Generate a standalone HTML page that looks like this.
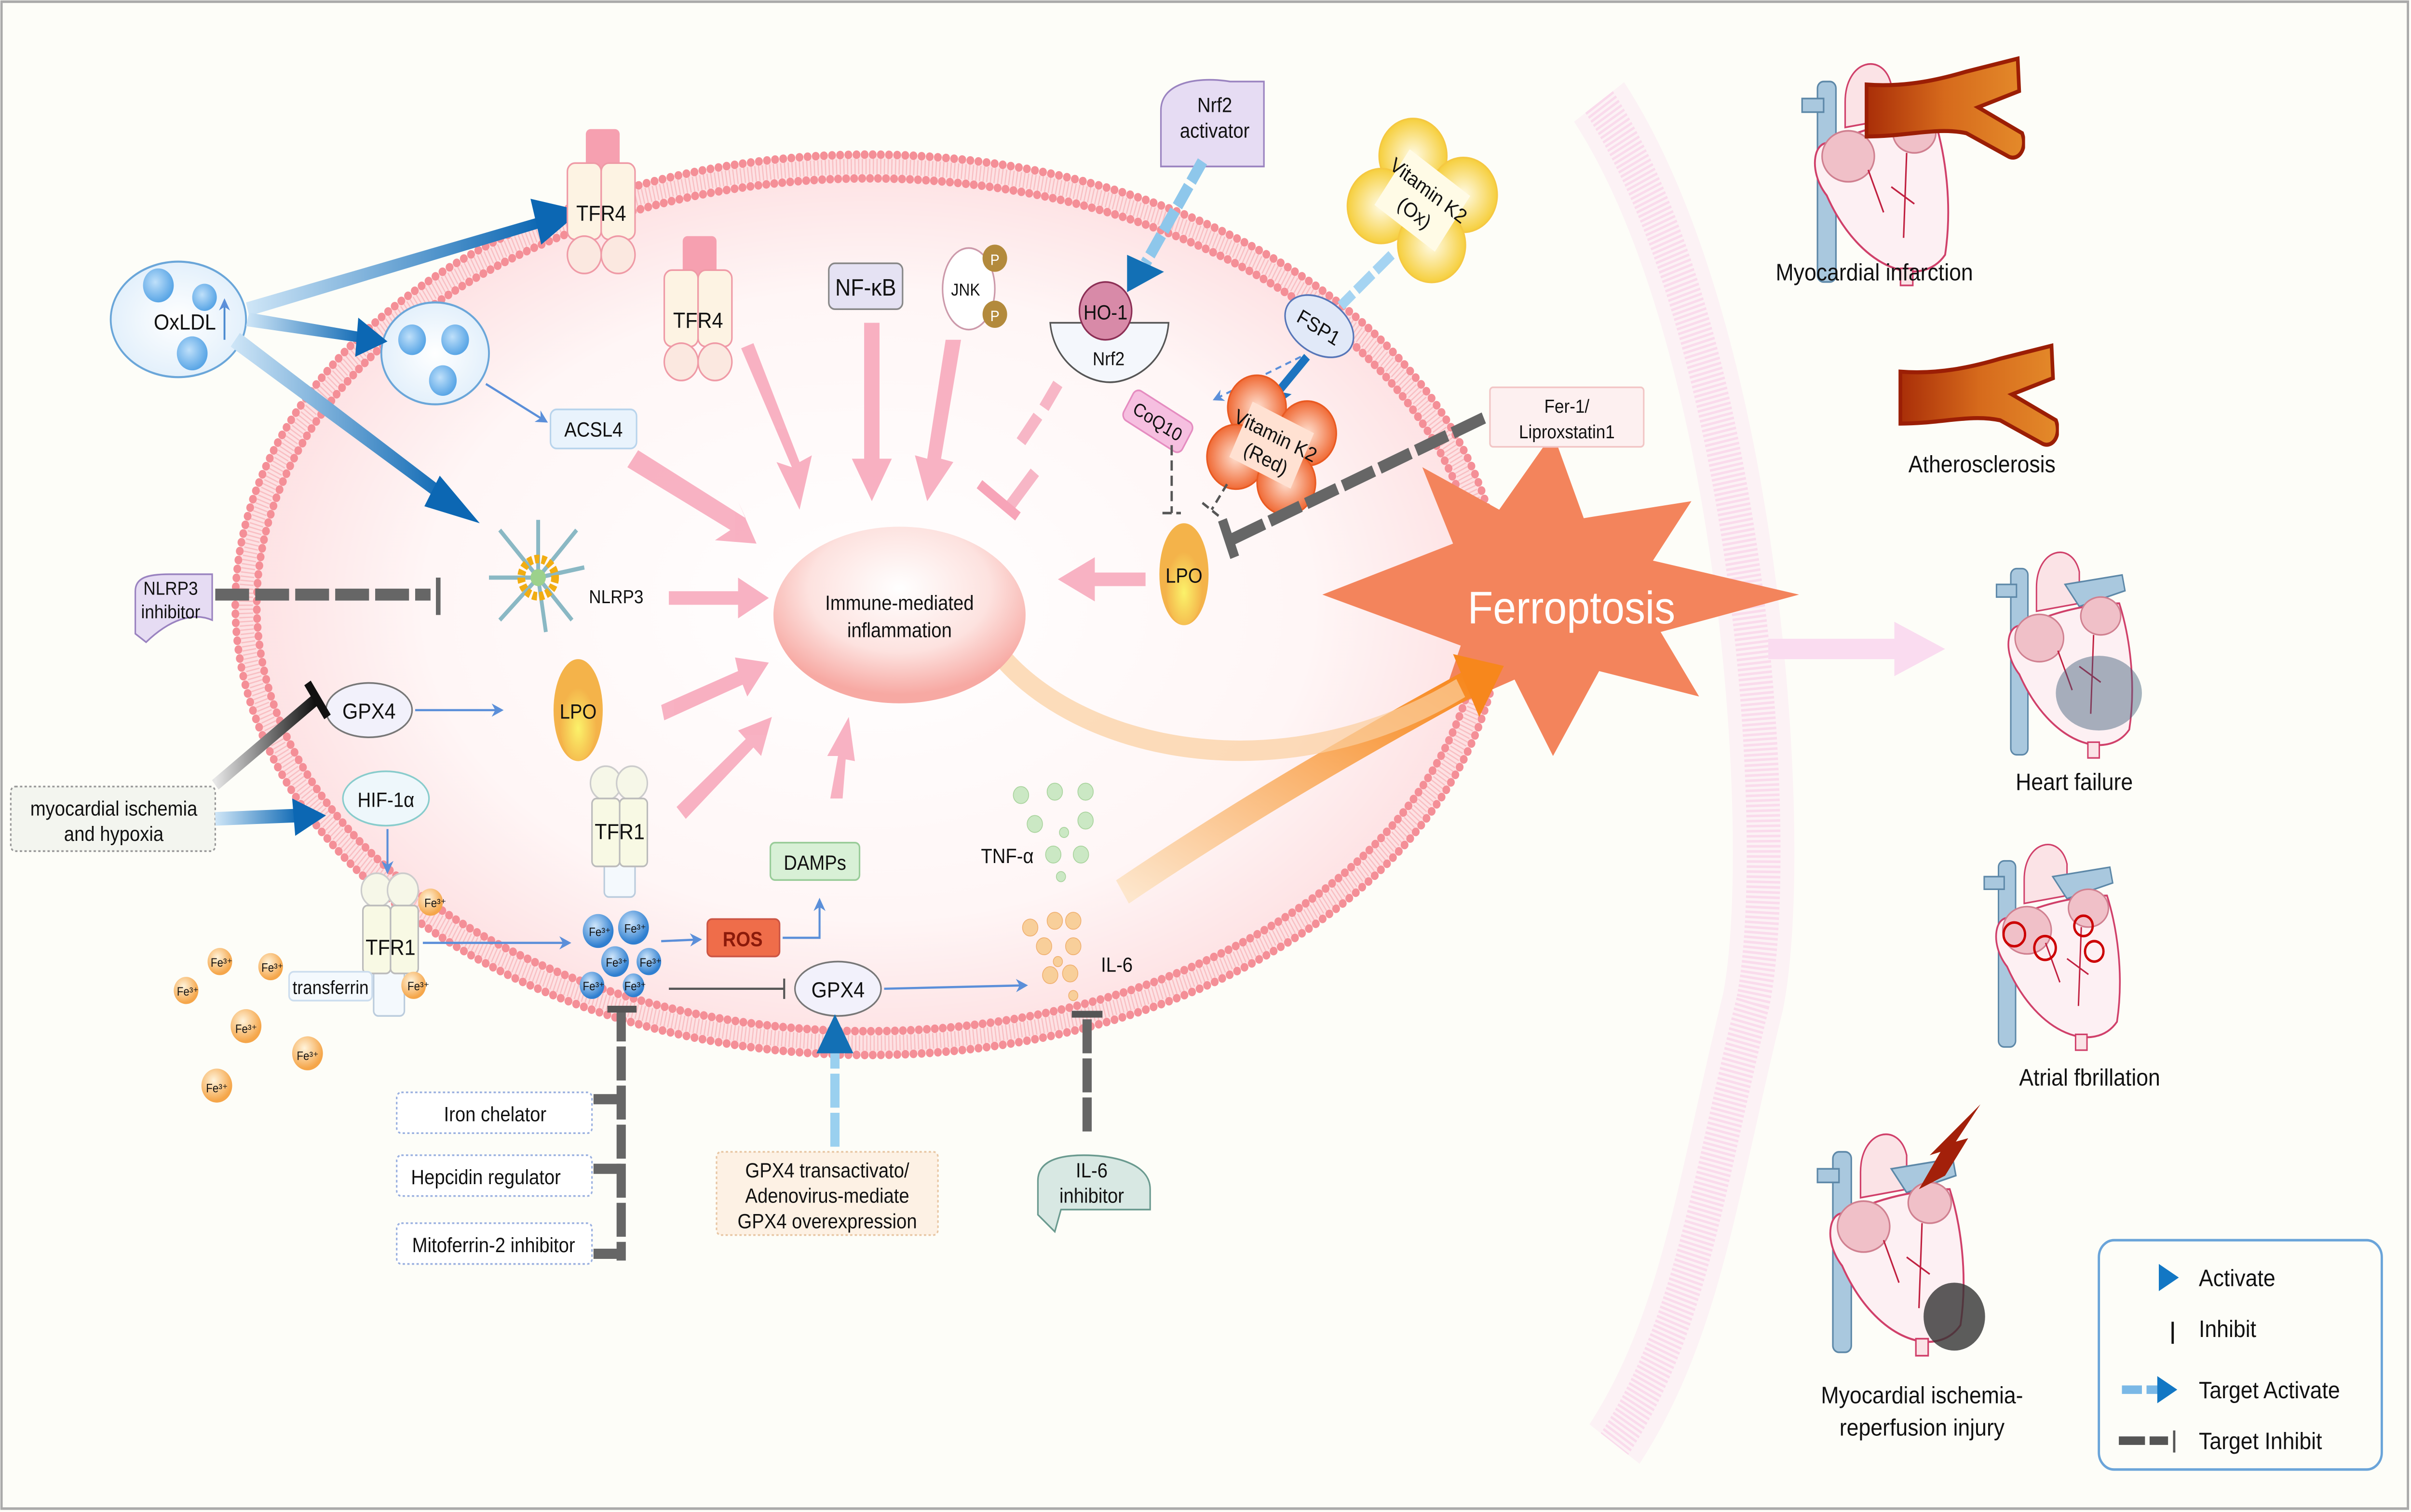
<!DOCTYPE html>
<html><head><meta charset="utf-8"><style>
html,body{margin:0;padding:0;background:#fdfdf8;width:100%;height:100%;overflow:hidden}
svg{display:block;position:absolute;left:0;top:0;width:100vw;height:100vh}
text{font-family:"Liberation Sans Narrow","Liberation Sans",sans-serif;fill:#111}
.w{font-family:"Liberation Sans",sans-serif}
</style></head><body>
<svg viewBox="0 0 1568 890" preserveAspectRatio="none" xmlns="http://www.w3.org/2000/svg">
<defs>
<radialGradient id="cell" cx="0.5" cy="0.5" r="0.5">
<stop offset="0" stop-color="#ffffff"/><stop offset="0.7" stop-color="#fff6f6"/><stop offset="1" stop-color="#fde0e2"/></radialGradient>
<radialGradient id="infl" cx="0.5" cy="0.35" r="0.6"><stop offset="0" stop-color="#fff"/><stop offset="0.6" stop-color="#fde2df"/><stop offset="1" stop-color="#f7a9a3"/></radialGradient>
<radialGradient id="fe" cx="0.4" cy="0.35" r="0.6"><stop offset="0" stop-color="#fff4dc"/><stop offset="1" stop-color="#f5a64a"/></radialGradient>
<radialGradient id="feb" cx="0.4" cy="0.35" r="0.6"><stop offset="0" stop-color="#cfe6fb"/><stop offset="1" stop-color="#2f7fd0"/></radialGradient>
<radialGradient id="lpo" cx="0.5" cy="0.6" r="0.5"><stop offset="0" stop-color="#fbf26a"/><stop offset="1" stop-color="#f4b34a"/></radialGradient>
<radialGradient id="ves" cx="0.5" cy="0.5" r="0.5"><stop offset="0" stop-color="#fff"/><stop offset="1" stop-color="#e3f0fb"/></radialGradient>
<radialGradient id="ball" cx="0.4" cy="0.4" r="0.6"><stop offset="0" stop-color="#bfe0fa"/><stop offset="1" stop-color="#5aa6e6"/></radialGradient>
<radialGradient id="vk" cx="0.5" cy="0.5" r="0.5"><stop offset="0" stop-color="#fffbe6"/><stop offset="1" stop-color="#f6cf3d"/></radialGradient>
<radialGradient id="vkr" cx="0.5" cy="0.5" r="0.5"><stop offset="0" stop-color="#ffe1d2"/><stop offset="1" stop-color="#f06a35"/></radialGradient>
<linearGradient id="blue" x1="0" y1="0" x2="1" y2="0"><stop offset="0" stop-color="#cfe6f7"/><stop offset="1" stop-color="#0c67b3"/></linearGradient>
<linearGradient id="orange" x1="0" y1="1" x2="1" y2="0"><stop offset="0" stop-color="#fde6cc"/><stop offset="1" stop-color="#f7871c"/></linearGradient>
<linearGradient id="blk" x1="0" y1="0" x2="1" y2="0"><stop offset="0" stop-color="#e6e6e6"/><stop offset="1" stop-color="#111"/></linearGradient>
<linearGradient id="vessel" x1="0" y1="0" x2="1" y2="0"><stop offset="0" stop-color="#a92e08"/><stop offset="0.5" stop-color="#d66a1c"/><stop offset="1" stop-color="#e48a2a"/></linearGradient>
<marker id="ab" viewBox="0 0 10 10" refX="8" refY="5" markerWidth="6" markerHeight="6" orient="auto"><path d="M0,0 L10,5 L0,10 L3,5z" fill="#5b8fd9"/></marker>
<symbol id="heart" viewBox="0 0 100 140">
<rect x="12" y="18" width="12" height="118" rx="4" fill="#a9c8de" stroke="#5d88a8"/>
<rect x="2" y="28" width="14" height="8" fill="#a9c8de" stroke="#5d88a8"/>
<path d="M30,30 C30,5 55,0 60,20 L60,40 L30,45z" fill="#fbe3e6" stroke="#d0406a"/>
<path d="M50,28 L90,22 L92,32 L60,42z" fill="#a9c8de" stroke="#5d88a8"/>
<path d="M22,55 C10,50 5,70 18,85 C40,130 80,140 95,120 C100,90 95,60 88,40 C70,40 40,45 22,55z" fill="#fdf0f3" stroke="#d0406a" stroke-width="1.2"/>
<ellipse cx="32" cy="62" rx="17" ry="15" fill="#f0c0c8" stroke="#d08090"/>
<ellipse cx="75" cy="48" rx="14" ry="12" fill="#f0c0c8" stroke="#d08090"/>
<path d="M45,70 L55,95 M70,60 L68,110 M60,80 L75,90" stroke="#c02040" stroke-width="1" fill="none"/>
<rect x="66" y="128" width="8" height="10" fill="#fbe3e6" stroke="#d0406a"/>
</symbol>
<symbol id="artery" viewBox="0 0 110 70">
<path d="M2,18 C30,20 55,14 70,10 L105,2 L106,22 L78,32 L108,48 C112,58 105,66 98,62 L70,48 C50,44 30,50 2,50z" fill="url(#vessel)" stroke="#9b1e05" stroke-width="2.5"/>
</symbol>
</defs>

<rect x="0" y="0" width="1568" height="890" fill="#fdfdf8"/>
<rect x="1" y="1" width="1565" height="887" fill="none" stroke="#aaa" stroke-width="1.5"/>

<path d="M1040,60 C1140,200 1160,500 1140,590 C1110,700 1100,780 1050,850" stroke="#f9d3e8" stroke-width="22" fill="none" stroke-dasharray="1.5 1.5" opacity="0.9"/>
<path d="M1040,60 C1140,200 1160,500 1140,590 C1110,700 1100,780 1050,850" stroke="#fbe2f0" stroke-width="40" fill="none" opacity="0.4"/>
<path d="M1150,382 L1240,382" stroke="#fadcf0" stroke-width="12"/>
<path d="M1232,366 L1265,382 L1232,398z" fill="#fadcf0"/>

<ellipse cx="565" cy="356" rx="412" ry="264" fill="url(#cell)"/>
<ellipse cx="565" cy="356" rx="405" ry="258" fill="none" stroke="#f6a9ae" stroke-width="9" stroke-dasharray="0.8 1.6" opacity="0.6"/>
<ellipse cx="565" cy="356" rx="412" ry="265" fill="none" stroke="#f48f97" stroke-width="5" stroke-linecap="round" stroke-dasharray="0.1 5.2"/>
<ellipse cx="565" cy="356" rx="398" ry="251" fill="none" stroke="#f48f97" stroke-width="5" stroke-linecap="round" stroke-dasharray="0.1 5.1"/>

<path d="M860,350 L945,320 L925,275 L975,300 L1010,255 L1030,305 L1100,295 L1075,330 L1170,350 L1080,372 L1105,410 L1040,395 L1010,445 L985,400 L935,420 L950,380z" fill="#f3845c"/>
<text x="1022" y="367" class="w" font-size="27" text-anchor="middle" style="fill:#fff">Ferroptosis</text>

<path d="M730,525 C820,470 900,430 960,400" stroke="url(#orange)" stroke-width="16" fill="none"/>
<path d="M945,385 L978,392 L962,422z" fill="#f7871c"/>
<path d="M650,385 C700,440 830,470 950,405" stroke="#fbcf9e" stroke-width="12" fill="none" opacity="0.7"/>

<ellipse cx="585" cy="362" rx="82" ry="52" fill="url(#infl)"/>
<text x="585" y="359" font-size="12" text-anchor="middle" class="w">Immune-mediated</text>
<text x="585" y="375" font-size="12" text-anchor="middle" class="w">inflammation</text>

<g fill="#f7a4b8" opacity="0.85">
<path d="M415,265 L485,305 L480,295 L492,320 L465,318 L475,312 L408,275z"/>
<path d="M482,205 L515,275 L505,272 L520,300 L528,268 L520,272 L490,202z" />
<path d="M562,190 L572,190 L572,270 L580,270 L567,295 L554,270 L562,270z"/>
<path d="M615,200 L625,200 L612,270 L620,272 L603,295 L595,268 L603,270z"/>
<path d="M435,348 L480,348 L480,340 L500,352 L480,364 L480,356 L435,356z"/>
<path d="M430,415 L480,395 L478,387 L500,390 L486,410 L483,403 L432,424z"/>
<path d="M440,475 L485,435 L480,430 L502,422 L495,445 L490,440 L446,482z"/>
<path d="M540,470 L545,445 L538,445 L552,422 L556,448 L550,447 L548,470z"/>
<path d="M745,337 L712,337 L712,328 L688,341 L712,354 L712,345 L745,345z"/>
</g>
<g stroke="#f7b6c6" stroke-width="7" fill="none"><path d="M673,278 L655,300 M664,260 L675,245 M679,240 L688,226" /></g>
<path d="M637,285 L662,304" stroke="#f7a4b8" stroke-width="6"/>

<ellipse cx="116" cy="188" rx="44" ry="34" fill="url(#ves)" stroke="#6aa6d9" stroke-width="1.2"/>
<circle cx="103" cy="168" r="10" fill="url(#ball)"/><circle cx="125" cy="208" r="10" fill="url(#ball)"/><circle cx="133" cy="175" r="8" fill="url(#ball)"/>
<text x="100" y="194" font-size="13" class="w">OxLDL</text>
<path d="M146,200 L146,177" stroke="#4a8ad0" stroke-width="1.2" marker-end="url(#ab)"/>
<ellipse cx="283" cy="208" rx="35" ry="30" fill="url(#ves)" stroke="#6aa6d9" stroke-width="1.2"/>
<circle cx="268" cy="200" r="9" fill="url(#ball)"/><circle cx="296" cy="200" r="9" fill="url(#ball)"/><circle cx="288" cy="224" r="9" fill="url(#ball)"/>
<g>
<path d="M160,178 L350,128 L352,134 L162,186z" fill="url(#blue)"/><path d="M345,117 L378,124 L352,144z" fill="#0c67b3"/>
<path d="M162,184 L238,196 L237,202 L160,192z" fill="url(#blue)"/><path d="M233,187 L252,201 L231,210z" fill="#0c67b3"/>
<path d="M156,196 L292,290 L288,296 L150,204z" fill="url(#blue)"/><path d="M286,280 L312,308 L276,298z" fill="#0c67b3"/>
</g>
<path d="M316,226 L355,248" stroke="#5b8fd9" stroke-width="1.3" marker-end="url(#ab)"/>
<rect x="358" y="241" width="56" height="23" rx="4" fill="#e9f3fc" stroke="#b8d4ec"/>
<text x="386" y="257" font-size="12" text-anchor="middle" class="w">ACSL4</text>

<g>
<rect x="381" y="76" width="22" height="25" rx="3" fill="#f6a0b0"/>
<rect x="369" y="96" width="22" height="45" rx="5" fill="#fdf3e3" stroke="#ef9aa6"/>
<rect x="391" y="96" width="22" height="45" rx="5" fill="#fdf3e3" stroke="#ef9aa6"/>
<circle cx="380" cy="150" r="11" fill="#fbe8e0" stroke="#ef9aa6"/><circle cx="402" cy="150" r="11" fill="#fbe8e0" stroke="#ef9aa6"/>
<text x="391" y="130" font-size="13" text-anchor="middle">TFR4</text>
</g>
<g transform="translate(63,63)">
<rect x="381" y="76" width="22" height="25" rx="3" fill="#f6a0b0"/>
<rect x="369" y="96" width="22" height="45" rx="5" fill="#fdf3e3" stroke="#ef9aa6"/>
<rect x="391" y="96" width="22" height="45" rx="5" fill="#fdf3e3" stroke="#ef9aa6"/>
<circle cx="380" cy="150" r="11" fill="#fbe8e0" stroke="#ef9aa6"/><circle cx="402" cy="150" r="11" fill="#fbe8e0" stroke="#ef9aa6"/>
<text x="391" y="130" font-size="13" text-anchor="middle">TFR4</text>
</g>

<rect x="539" y="155" width="48" height="27" rx="4" fill="#e5e2f3" stroke="#888"/>
<text x="563" y="174" font-size="14" text-anchor="middle" class="w">NF-κB</text>
<ellipse cx="630" cy="170" rx="17" ry="24" fill="#fff" stroke="#c9a"/>
<text x="628" y="174" font-size="10" text-anchor="middle">JNK</text>
<circle cx="647" cy="152" r="8" fill="#b38a3c"/><text x="647" y="156" font-size="9" text-anchor="middle" style="fill:#fff">P</text>
<circle cx="647" cy="185" r="8" fill="#b38a3c"/><text x="647" y="189" font-size="9" text-anchor="middle" style="fill:#fff">P</text>

<path d="M755,98 L755,65 C755,48 780,45 800,48 L822,48 L822,98z" fill="#e6dcf3" stroke="#9a83c0"/>
<text x="790" y="66" font-size="12" text-anchor="middle" class="w">Nrf2</text>
<text x="790" y="81" font-size="12" text-anchor="middle" class="w">activator</text>
<path d="M782,95 L745,155" stroke="#8ec7eb" stroke-width="7" stroke-dasharray="14 3"/>
<path d="M733,150 L757,160 L733,172z" fill="#1370b5"/>
<path d="M683,190 L760,190 C758,215 735,225 722,225 C705,225 685,212 683,190z" fill="#f4f7fc" stroke="#555"/>
<circle cx="719" cy="183" r="17" fill="#d88aa8" stroke="#8c2f55"/>
<text x="719" y="188" font-size="12" text-anchor="middle">HO-1</text>
<text x="721" y="215" font-size="11" text-anchor="middle">Nrf2</text>

<g transform="translate(925,118) rotate(35)">
<circle cx="-20" cy="-18" r="22" fill="url(#vk)" stroke="#f5c842"/><circle cx="20" cy="-18" r="22" fill="url(#vk)" stroke="#f5c842"/>
<circle cx="-20" cy="18" r="22" fill="url(#vk)" stroke="#f5c842"/><circle cx="20" cy="18" r="22" fill="url(#vk)" stroke="#f5c842"/>
<rect x="-24" y="-20" width="48" height="40" fill="#fffbe6"/>
<text x="0" y="-3" font-size="12" text-anchor="middle" class="w">Vitamin K2</text>
<text x="0" y="13" font-size="12" text-anchor="middle" class="w">(Ox)</text>
</g>
<path d="M905,150 L872,180" stroke="#a5d4f2" stroke-width="6" stroke-dasharray="14 3"/>
<g transform="translate(858,192) rotate(30)"><ellipse rx="24" ry="16" fill="#e1e9f8" stroke="#5776b8"/><text y="5" font-size="12" text-anchor="middle" class="w">FSP1</text></g>
<path d="M846,210 L790,235" stroke="#5b8fd9" stroke-width="1.2" stroke-dasharray="4 3" marker-end="url(#ab)"/>
<path d="M850,210 L830,232" stroke="#1c74c0" stroke-width="5"/><path d="M818,228 L840,232 L820,245z" fill="#1c74c0"/>
<g transform="translate(827,262) rotate(25)">
<circle cx="-18" cy="-16" r="19" fill="url(#vkr)" stroke="#e95a22"/><circle cx="18" cy="-16" r="19" fill="url(#vkr)" stroke="#e95a22"/>
<circle cx="-18" cy="16" r="19" fill="url(#vkr)" stroke="#e95a22"/><circle cx="18" cy="16" r="19" fill="url(#vkr)" stroke="#e95a22"/>
<rect x="-22" y="-18" width="44" height="36" fill="#ffe1d2"/>
<text y="-2" font-size="12" text-anchor="middle" class="w">Vitamin K2</text>
<text y="13" font-size="12" text-anchor="middle" class="w">(Red)</text>
</g>
<g transform="translate(753,248) rotate(30)"><rect x="-22" y="-10" width="44" height="20" rx="4" fill="#f6bfe0" stroke="#e58cc0"/><text y="4" font-size="11" text-anchor="middle" class="w">CoQ10</text></g>
<path d="M762,262 L762,302 M756,302 L768,302" stroke="#555" stroke-width="1.5" stroke-dasharray="6 3"/>
<path d="M798,285 L788,300 M782,296 L793,304" stroke="#555" stroke-width="1.5" stroke-dasharray="5 3"/>
<g transform="translate(770,338)">
<ellipse rx="16" ry="30" fill="#f4b34a"/><ellipse cy="6" rx="12" ry="24" fill="url(#lpo)"/>
<text y="5" font-size="12" text-anchor="middle">LPO</text></g>
<rect x="969" y="228" width="100" height="35" rx="2" fill="#fdf0f0" stroke="#f2c6c6"/>
<text x="1019" y="243" font-size="11" text-anchor="middle" class="w">Fer-1/</text>
<text x="1019" y="258" font-size="11" text-anchor="middle" class="w">Liproxstatin1</text>
<path d="M965,246 L800,318" stroke="#666" stroke-width="7" stroke-dasharray="22 4"/>
<path d="M795,306 L803,328" stroke="#666" stroke-width="6"/>

<path d="M88,373 L88,348 C88,340 96,338 110,338 L138,338 L138,365 C125,360 110,365 95,378z" fill="#e6dcf3" stroke="#9a83c0"/>
<text x="111" y="350" font-size="11" text-anchor="middle" class="w">NLRP3</text>
<text x="111" y="364" font-size="11" text-anchor="middle" class="w">inhibitor</text>
<path d="M140,350 L280,350" stroke="#666" stroke-width="7" stroke-dasharray="22 4"/>
<path d="M285,340 L285,362" stroke="#666" stroke-width="3"/>
<g transform="translate(350,340)">
<g stroke="#8ab8c4" stroke-width="2.5">
<path d="M0,0 L-25,-28 M0,0 L25,-28 M0,0 L-32,0 M0,0 L30,-6 M0,0 L-25,25 M0,0 L22,25 M0,0 L0,-34 M0,0 L5,32"/></g>
<circle r="11" fill="none" stroke="#f1ad12" stroke-width="5" stroke-dasharray="3 1.5"/>
<circle r="5" fill="#9cd18c"/>
</g>
<text x="383" y="355" font-size="11" class="w">NLRP3</text>

<ellipse cx="240" cy="418" rx="28" ry="16" fill="#f2f1fb" stroke="#777"/>
<text x="240" y="423" font-size="13" text-anchor="middle" class="w">GPX4</text>
<path d="M270,418 L326,418" stroke="#5b8fd9" stroke-width="1.3" marker-end="url(#ab)"/>
<g transform="translate(376,418)">
<ellipse rx="16" ry="30" fill="#f4b34a"/><ellipse cy="6" rx="12" ry="24" fill="url(#lpo)"/>
<text y="5" font-size="12" text-anchor="middle">LPO</text></g>
<path d="M140,462 L205,412" stroke="url(#blk)" stroke-width="7"/>
<path d="M200,402 L213,422" stroke="#111" stroke-width="5"/>
<rect x="7" y="463" width="133" height="38" rx="3" fill="#f3f5ef" stroke="#999" stroke-dasharray="1.5 1.5"/>
<text x="74" y="480" font-size="12" text-anchor="middle" class="w">myocardial ischemia</text>
<text x="74" y="495" font-size="12" text-anchor="middle" class="w">and hypoxia</text>
<path d="M140,482 L195,480" stroke="url(#blue)" stroke-width="8"/><path d="M190,470 L212,480 L192,492z" fill="#0c67b3"/>
<ellipse cx="251" cy="470" rx="28" ry="16" fill="#eef7fb" stroke="#8cc"/>
<text x="251" y="475" font-size="12" text-anchor="middle" class="w">HIF-1α</text>
<path d="M252,488 L252,513" stroke="#5b8fd9" stroke-width="1.3" marker-end="url(#ab)"/>

<rect x="243" y="560" width="20" height="38" rx="3" fill="#f4f9fd" stroke="#bcd"/>
<circle cx="245" cy="524" r="10" fill="#f6f7e8" stroke="#ccc"/><circle cx="262" cy="524" r="10" fill="#f6f7e8" stroke="#ccc"/>
<rect x="236" y="533" width="18" height="40" rx="3" fill="#f8f9e4" stroke="#bbb"/><rect x="254" y="533" width="18" height="40" rx="3" fill="#f8f9e4" stroke="#bbb"/>
<text x="254" y="562" font-size="13" text-anchor="middle">TFR1</text>
<rect x="188" y="572" width="54" height="17" rx="3" fill="#f4f9fd" stroke="#cde"/>
<text x="215" y="585" font-size="11" text-anchor="middle">transferrin</text>
<g font-size="7">
<circle cx="280" cy="531" r="8" fill="url(#fe)"/><text x="276" y="534">Fe³⁺</text>
<circle cx="269" cy="580" r="8" fill="url(#fe)"/><text x="265" y="583">Fe³⁺</text>
<circle cx="143" cy="566" r="8" fill="url(#fe)"/><text x="137" y="569">Fe³⁺</text>
<circle cx="176" cy="569" r="8" fill="url(#fe)"/><text x="170" y="572">Fe³⁺</text>
<circle cx="121" cy="583" r="8" fill="url(#fe)"/><text x="115" y="586">Fe³⁺</text>
<circle cx="160" cy="604" r="10" fill="url(#fe)"/><text x="153" y="608">Fe³⁺</text>
<circle cx="200" cy="620" r="10" fill="url(#fe)"/><text x="193" y="624">Fe³⁺</text>
<circle cx="141" cy="639" r="10" fill="url(#fe)"/><text x="134" y="643">Fe³⁺</text>
</g>
<path d="M275,555 L370,555" stroke="#5b8fd9" stroke-width="1.3" marker-end="url(#ab)"/>
<g font-size="7">
<circle cx="389" cy="548" r="10" fill="url(#feb)"/><text x="383" y="551">Fe³⁺</text>
<circle cx="412" cy="546" r="10" fill="url(#feb)"/><text x="406" y="549">Fe³⁺</text>
<circle cx="400" cy="566" r="9" fill="url(#feb)"/><text x="394" y="569">Fe³⁺</text>
<circle cx="422" cy="566" r="8" fill="url(#feb)"/><text x="416" y="569">Fe³⁺</text>
<circle cx="385" cy="580" r="8" fill="url(#feb)"/><text x="379" y="583">Fe³⁺</text>
<circle cx="412" cy="580" r="7" fill="url(#feb)"/><text x="406" y="583">Fe³⁺</text>
</g>
<rect x="393" y="490" width="20" height="38" rx="3" fill="#f4f9fd" stroke="#bcd"/>
<circle cx="394" cy="461" r="10" fill="#f6f7e8" stroke="#ccc"/><circle cx="411" cy="461" r="10" fill="#f6f7e8" stroke="#ccc"/>
<rect x="385" y="470" width="18" height="40" rx="3" fill="#f8f9e4" stroke="#bbb"/><rect x="403" y="470" width="18" height="40" rx="3" fill="#f8f9e4" stroke="#bbb"/>
<text x="403" y="494" font-size="13" text-anchor="middle">TFR1</text>
<path d="M430,554 L455,553" stroke="#5b8fd9" stroke-width="1.3" marker-end="url(#ab)"/>
<rect x="460" y="541" width="47" height="22" rx="3" fill="#ef6d4a" stroke="#c54"/>
<text x="483" y="557" font-size="12" text-anchor="middle" style="fill:#8b1a0a;font-weight:bold">ROS</text>
<path d="M509,552 L533,552 L533,530" stroke="#5b8fd9" stroke-width="1.3" fill="none" marker-end="url(#ab)"/>
<rect x="501" y="496" width="58" height="22" rx="3" fill="#d8f0d6" stroke="#9c9"/>
<text x="530" y="512" font-size="12" text-anchor="middle" class="w">DAMPs</text>
<path d="M435,582 L510,582 M510,576 L510,588" stroke="#555" stroke-width="1.3"/>
<ellipse cx="545" cy="582" rx="28" ry="16" fill="#f2f1fb" stroke="#777"/>
<text x="545" y="587" font-size="13" text-anchor="middle" class="w">GPX4</text>
<path d="M575,582 L667,580" stroke="#5b8fd9" stroke-width="1.3" marker-end="url(#ab)"/>
<path d="M543,675 L543,620" stroke="#9ad0ef" stroke-width="6" stroke-dasharray="20 3"/>
<path d="M531,620 L543,597 L555,620z" fill="#1370b5"/>
<rect x="466" y="678" width="144" height="49" rx="3" fill="#fdf1e4" stroke="#e8c6a3" stroke-dasharray="1.5 1.5"/>
<text x="538" y="693" font-size="12" text-anchor="middle">GPX4 transactivato/</text>
<text x="538" y="708" font-size="12" text-anchor="middle">Adenovirus-mediate</text>
<text x="538" y="723" font-size="12" text-anchor="middle">GPX4 overexpression</text>
<path d="M404,593 L404,742" stroke="#666" stroke-width="6" stroke-dasharray="20 3"/>
<path d="M395,594 L414,594" stroke="#555" stroke-width="4"/>
<path d="M386,647 L404,647 M386,688 L404,688 M386,738 L404,738" stroke="#666" stroke-width="6"/>
<g font-size="12" text-anchor="middle">
<rect x="258" y="643" width="127" height="24" rx="3" fill="#fff" stroke="#9ab0e0" stroke-dasharray="1.5 1.5"/><text x="322" y="660">Iron chelator</text>
<rect x="258" y="680" width="127" height="24" rx="3" fill="#fff" stroke="#9ab0e0" stroke-dasharray="1.5 1.5"/><text x="316" y="697">Hepcidin regulator</text>
<rect x="258" y="720" width="127" height="24" rx="3" fill="#fff" stroke="#9ab0e0" stroke-dasharray="1.5 1.5"/><text x="321" y="737">Mitoferrin-2 inhibitor</text>
</g>
<g fill="#cbe8c4" stroke="#a8d39c" stroke-width="0.5">
<circle cx="664" cy="468" r="5"/><circle cx="686" cy="466" r="5"/><circle cx="706" cy="466" r="5"/>
<circle cx="673" cy="485" r="5"/><circle cx="706" cy="483" r="5"/><circle cx="692" cy="490" r="3"/>
<circle cx="685" cy="503" r="5"/><circle cx="703" cy="503" r="5"/><circle cx="690" cy="516" r="3"/></g>
<text x="638" y="508" font-size="12" class="w">TNF-α</text>
<g fill="#f8cf9a" stroke="#f0b070" stroke-width="0.5">
<circle cx="670" cy="546" r="5"/><circle cx="686" cy="542" r="5"/><circle cx="698" cy="542" r="5"/>
<circle cx="679" cy="557" r="5"/><circle cx="698" cy="557" r="5"/><circle cx="688" cy="566" r="3"/>
<circle cx="683" cy="574" r="5"/><circle cx="696" cy="573" r="5"/><circle cx="698" cy="586" r="3"/></g>
<text x="716" y="572" font-size="12" class="w">IL-6</text>
<path d="M707,600 L707,668" stroke="#666" stroke-width="6" stroke-dasharray="20 3"/>
<path d="M697,597 L717,597" stroke="#555" stroke-width="4"/>
<path d="M675,715 L675,695 C675,685 685,680 705,680 C725,680 748,685 748,700 L748,712 L690,712 L686,725z" fill="#d8e8e3" stroke="#6a9a8f"/>
<text x="710" y="693" font-size="12" text-anchor="middle" class="w">IL-6</text>
<text x="710" y="708" font-size="12" text-anchor="middle" class="w">inhibitor</text>

<use href="#heart" x="1170" y="30" width="100" height="140"/>
<use href="#artery" x="1212" y="30" width="105" height="72"/>
<text x="1219" y="165" font-size="14" text-anchor="middle" class="w">Myocardial  infarction</text>
<use href="#artery" x="1234" y="200" width="105" height="70"/>
<text x="1289" y="278" font-size="14" text-anchor="middle" class="w">Atherosclerosis</text>
<use href="#heart" x="1288" y="318" width="110" height="130"/>
<ellipse cx="1365" cy="408" rx="28" ry="22" fill="#3c5c78" opacity="0.45"/>
<text x="1349" y="465" font-size="14" text-anchor="middle" class="w">Heart failure</text>
<use href="#heart" x="1275" y="490" width="120" height="130"/>
<g fill="none" stroke="#c00" stroke-width="1.5"><circle cx="1310" cy="550" r="7"/><circle cx="1330" cy="558" r="7"/><circle cx="1355" cy="545" r="6"/><circle cx="1362" cy="560" r="6"/></g>
<text x="1359" y="639" font-size="14" text-anchor="middle">Atrial fbrillation</text>
<use href="#heart" x="1170" y="660" width="120" height="140"/>
<circle cx="1271" cy="775" r="20" fill="#333" opacity="0.8"/>
<path d="M1288,650 L1272,672 L1280,670 L1265,692 L1248,700 L1262,678 L1255,680z" fill="#a3200a"/>
<text x="1250" y="826" font-size="14" text-anchor="middle">Myocardial ischemia-</text>
<text x="1250" y="845" font-size="14" text-anchor="middle">reperfusion injury</text>

<rect x="1365" y="730" width="184" height="135" rx="10" fill="#fdfdf8" stroke="#6aa4d9" stroke-width="1.5"/>
<path d="M1380,752 L1405,752" stroke="url(#blue)" stroke-width="5"/><path d="M1404,744 L1417,752 L1404,760z" fill="#1277c4"/>
<text x="1430" y="757" font-size="14">Activate</text>
<path d="M1380,784 L1412,784" stroke="url(#blk)" stroke-width="4"/><path d="M1413,778 L1413,791" stroke="#111" stroke-width="1.5"/>
<text x="1430" y="787" font-size="14">Inhibit</text>
<path d="M1380,818 L1393,818 M1396,818 L1405,818" stroke="#7ab8e6" stroke-width="5"/><path d="M1403,810 L1416,818 L1403,826z" fill="#1277c4"/>
<text x="1430" y="823" font-size="14">Target Activate</text>
<path d="M1378,848 L1395,848 M1398,848 L1410,848" stroke="#555" stroke-width="5"/><path d="M1414,842 L1414,855" stroke="#555" stroke-width="1.5"/>
<text x="1430" y="853" font-size="14">Target Inhibit</text>
</svg>
</body></html>
